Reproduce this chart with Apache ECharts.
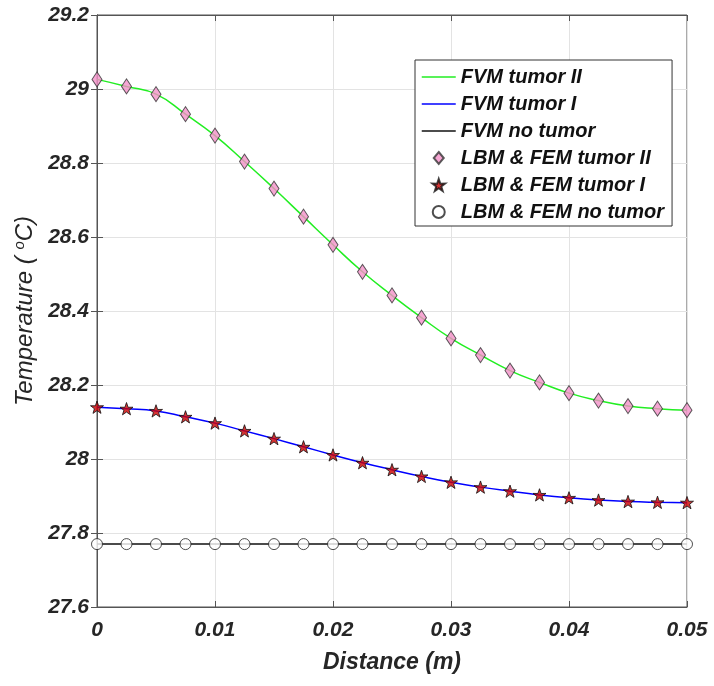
<!DOCTYPE html>
<html>
<head>
<meta charset="utf-8">
<script src="https://cdn.jsdelivr.net/npm/echarts@6/dist/echarts.min.js"></script>
<style>html,body{margin:0;padding:0;background:#fff}#c{width:714px;height:686px}</style>
</head>
<body>
<div id="c"></div>
<script>
const distance = [0,0.0025,0.005,0.0075,0.01,0.0125,0.015,0.0175,0.02,0.0225,0.025,0.0275,0.03,0.0325,0.035,0.0375,0.04,0.0425,0.045,0.0475,0.05];
const tumorII = [29.026,29.007,28.986,28.932,28.874,28.804,28.731,28.655,28.579,28.506,28.442,28.382,28.326,28.281,28.239,28.207,28.178,28.158,28.143,28.136,28.132];
const tumorI = [28.140,28.136,28.130,28.114,28.097,28.076,28.055,28.033,28.011,27.990,27.971,27.953,27.937,27.924,27.913,27.903,27.895,27.889,27.885,27.883,27.882];
const noTumor = [27.77,27.77,27.77,27.77,27.77,27.77,27.77,27.77,27.77,27.77,27.77,27.77,27.77,27.77,27.77,27.77,27.77,27.77,27.77,27.77,27.77];
const names = ['FVM tumor II','FVM tumor I','FVM no tumor','LBM & FEM tumor II','LBM & FEM tumor I','LBM & FEM no tumor'];
const lineColors = ['#22ee22','#0000ff','#111111'];

const pair = arr => distance.map((d,i)=>[d,arr[i]]);
const star = 'path://M50,0 L61.8,35.1 L97.6,34.5 L69,56.7 L79.4,90.5 L50,70 L20.6,90.5 L31,56.7 L2.4,34.5 L38.2,35.1 Z';
const diamond = 'path://M50,0 L100,60 L50,120 L0,60 Z';
const ff = 'Liberation Sans, Arial, sans-serif';
const font = {fontFamily:ff, fontWeight:'bold', fontStyle:'italic', color:'#262626'};
const titleFont = {fontFamily:ff, fontWeight:'normal', fontStyle:'italic', color:'#262626'};

const chart = echarts.init(document.getElementById('c'));
chart.setOption({
  animation:false,
  backgroundColor:'#fff',
  grid:{left:97,right:27,top:15,bottom:79,show:true,borderColor:'#555',borderWidth:1},
  xAxis:[{
    type:'value',min:0,max:0.05,interval:0.01,
    axisLine:{show:true,lineStyle:{color:'#555'}},
    axisTick:{show:true,inside:true,length:6,lineStyle:{color:'#555'}},
    splitLine:{show:true,lineStyle:{color:'#e3e3e3'}},
    axisLabel:Object.assign({fontSize:21,margin:13,formatter:v=>String(+v.toFixed(3))},font),
    name:'Distance (m)',nameLocation:'middle',nameGap:44,
    nameTextStyle:Object.assign({fontSize:23},font)
  },{
    type:'value',min:0,max:0.05,interval:0.01,position:'top',
    axisLine:{show:true,lineStyle:{color:'#555'}},
    axisTick:{show:true,inside:true,length:6,lineStyle:{color:'#555'}},
    axisLabel:{show:false},splitLine:{show:false}
  }],
  yAxis:[{
    type:'value',min:27.6,max:29.2,interval:0.2,
    axisLine:{show:true,lineStyle:{color:'#555'}},
    axisTick:{show:true,inside:true,length:6,lineStyle:{color:'#555'}},
    splitLine:{show:true,lineStyle:{color:'#e3e3e3'}},
    axisLabel:Object.assign({fontSize:21,margin:8,formatter:v=>String(+v.toFixed(1))},font),
    name:'{n|Temperature ( }{s|o}{n|C)}',nameLocation:'middle',nameGap:59,
    nameTextStyle:{rich:{
      n:Object.assign({fontSize:24},titleFont),
      s:Object.assign({fontSize:15,verticalAlign:'top',padding:[0,0,10,0]},titleFont)
    }}
  },{
    type:'value',min:27.6,max:29.2,interval:0.2,position:'right',
    axisLine:{show:true,lineStyle:{color:'#555'}},
    axisTick:{show:true,inside:true,length:6,lineStyle:{color:'#555'}},
    axisLabel:{show:false},splitLine:{show:false}
  }],
  legend:{
    orient:'vertical',left:415,top:60,
    data:[
      {name:names[0],icon:'line',itemStyle:{color:lineColors[0],borderColor:lineColors[0],borderWidth:1.5}},
      {name:names[1],icon:'line',itemStyle:{color:lineColors[1],borderColor:lineColors[1],borderWidth:1.5}},
      {name:names[2],icon:'line',itemStyle:{color:lineColors[2],borderColor:lineColors[2],borderWidth:1.5}},
      {name:names[3]},
      {name:names[4]},
      {name:names[5]}
    ],
    itemWidth:34,itemHeight:12,itemGap:7,
    padding:[7,8,4,6],
    backgroundColor:'#fff',borderColor:'#333',borderWidth:1,borderRadius:0,
    textStyle:{fontFamily:ff,fontWeight:'bold',fontStyle:'italic',fontSize:20,lineHeight:20,color:'#111'}
  },
  series:[
    {name:names[0],type:'line',data:pair(tumorII),smooth:true,symbol:'none',lineStyle:{color:lineColors[0],width:1.5},itemStyle:{color:lineColors[0]},z:2},
    {name:names[1],type:'line',data:pair(tumorI),smooth:true,symbol:'none',lineStyle:{color:lineColors[1],width:1.5},itemStyle:{color:lineColors[1]},z:2},
    {name:names[2],type:'line',data:pair(noTumor),smooth:true,symbol:'none',lineStyle:{color:lineColors[2],width:1.5},itemStyle:{color:lineColors[2]},z:2},
    {name:names[3],type:'scatter',data:pair(tumorII),symbol:diamond,symbolKeepAspect:true,symbolSize:[12,15],itemStyle:{color:'#f490c8',borderColor:'#333',borderWidth:1},z:3},
    {name:names[4],type:'scatter',data:pair(tumorI),symbol:star,symbolKeepAspect:true,symbolSize:13,itemStyle:{color:'#cc0000',borderColor:'#111',borderWidth:1},z:3},
    {name:names[5],type:'scatter',data:pair(noTumor),symbol:'circle',symbolSize:11,itemStyle:{color:'#fff',borderColor:'#222',borderWidth:1},z:3}
  ]
});
</script>
</body>
</html>
